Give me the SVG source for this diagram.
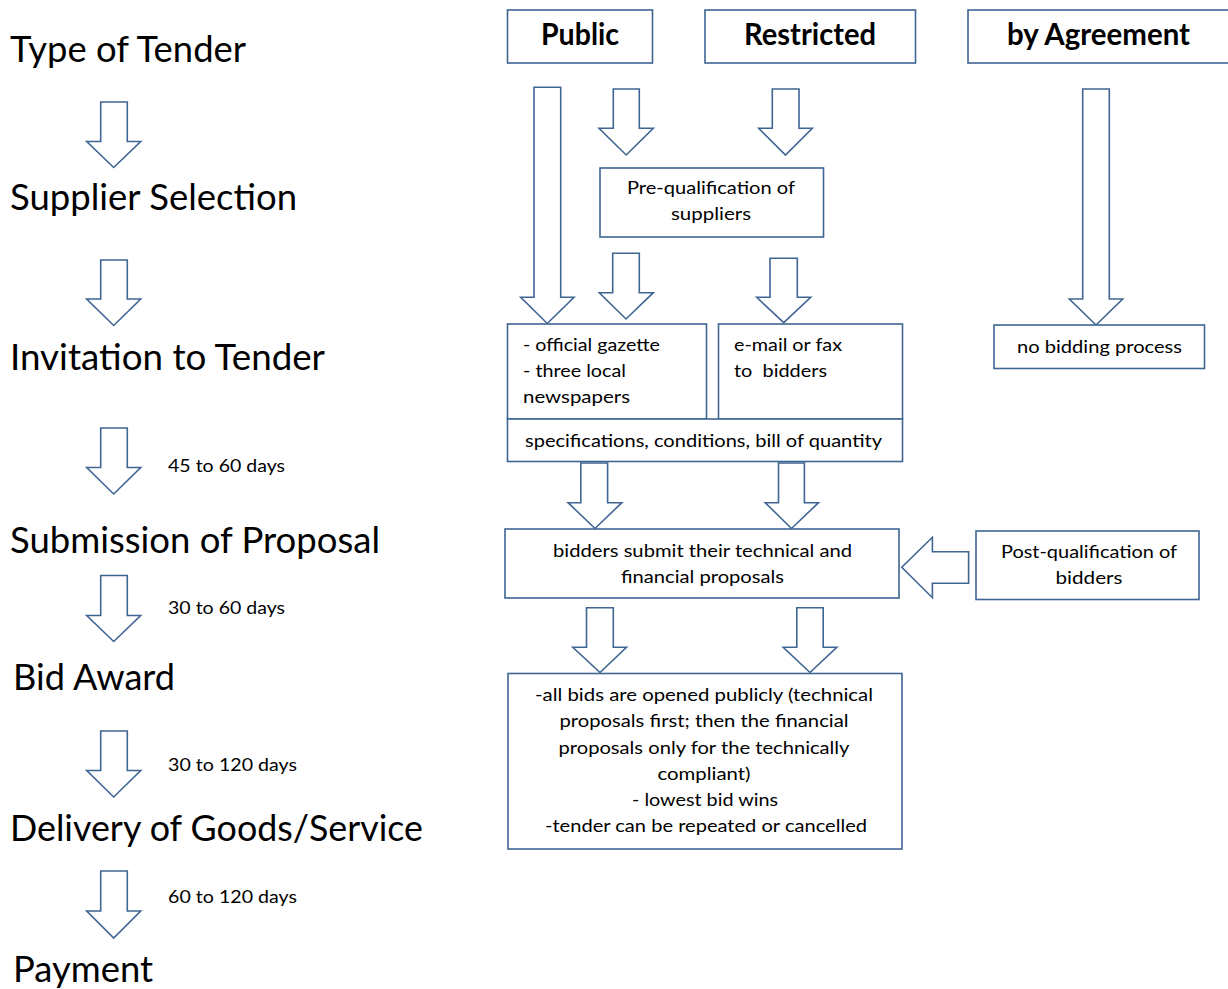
<svg xmlns="http://www.w3.org/2000/svg" width="1228" height="989" viewBox="0 0 1228 989">
<style>
.box{fill:#fff;stroke:#3f6593;stroke-width:1.6}
.arr{fill:#fff;stroke:#3f6593;stroke-width:1.6;stroke-linejoin:miter}
text{font-family:Lato,"Liberation Sans",sans-serif;fill:#000}
.big{font-size:36px}
.hd{font-size:30px;font-weight:bold}
.sm{font-size:18px}
.mid{text-anchor:middle}
</style>
<rect width="1228" height="989" fill="#fff"/>
<g id="stages">
<text class="big" x="10" y="62" textLength="236" lengthAdjust="spacingAndGlyphs">Type of Tender</text>
<text class="big" x="10" y="210" textLength="287" lengthAdjust="spacingAndGlyphs">Supplier Selection</text>
<text class="big" x="10" y="370" textLength="315" lengthAdjust="spacingAndGlyphs">Invitation to Tender</text>
<text class="big" x="10" y="553" textLength="370" lengthAdjust="spacingAndGlyphs">Submission of Proposal</text>
<text class="big" x="13" y="690" textLength="162" lengthAdjust="spacingAndGlyphs">Bid Award</text>
<text class="big" x="10" y="841" textLength="413" lengthAdjust="spacingAndGlyphs">Delivery of Goods/Service</text>
<text class="big" x="13" y="982" textLength="140" lengthAdjust="spacingAndGlyphs">Payment</text>
<text class="sm" x="168" y="472" textLength="117" lengthAdjust="spacingAndGlyphs">45 to 60 days</text>
<text class="sm" x="168" y="614" textLength="117" lengthAdjust="spacingAndGlyphs">30 to 60 days</text>
<text class="sm" x="168" y="771" textLength="129" lengthAdjust="spacingAndGlyphs">30 to 120 days</text>
<text class="sm" x="168" y="903" textLength="129" lengthAdjust="spacingAndGlyphs">60 to 120 days</text>
</g>
<g id="public">
<rect class="box" x="507.5" y="10" width="145" height="53"/>
<text class="hd mid" x="580" y="45" textLength="78" lengthAdjust="spacingAndGlyphs">Public</text>
</g>
<g id="restricted">
<rect class="box" x="705" y="10" width="210.5" height="53"/>
<text class="hd mid" x="810" y="45" textLength="132" lengthAdjust="spacingAndGlyphs">Restricted</text>
</g>
<g id="agreement">
<rect class="box" x="968" y="10" width="262" height="53"/>
<text class="hd mid" x="1098.5" y="45" textLength="183" lengthAdjust="spacingAndGlyphs">by Agreement</text>
</g>
<g id="prequal">
<rect class="box" x="600" y="168" width="223.5" height="69"/>
<text class="sm mid" x="711" y="194" textLength="168" lengthAdjust="spacingAndGlyphs">Pre-qualification of</text>
<text class="sm mid" x="711" y="220" textLength="80" lengthAdjust="spacingAndGlyphs">suppliers</text>
</g>
<g id="gazette">
<rect class="box" x="507.5" y="324" width="199" height="95"/>
<text class="sm" x="523" y="351" textLength="137" lengthAdjust="spacingAndGlyphs">- official gazette</text>
<text class="sm" x="523" y="377" textLength="103" lengthAdjust="spacingAndGlyphs">- three local</text>
<text class="sm" x="523" y="403" textLength="107" lengthAdjust="spacingAndGlyphs">newspapers</text>
</g>
<g id="email">
<rect class="box" x="718.5" y="324" width="184" height="95"/>
<text class="sm" x="734" y="351" textLength="108" lengthAdjust="spacingAndGlyphs">e-mail or fax</text>
<text class="sm" x="734" y="377" textLength="93" lengthAdjust="spacingAndGlyphs" xml:space="preserve">to  bidders</text>
</g>
<g id="specs">
<rect class="box" x="507.5" y="419" width="395" height="42.5"/>
<text class="sm" x="525" y="447" textLength="357" lengthAdjust="spacingAndGlyphs">specifications, conditions, bill of quantity</text>
</g>
<g id="nobid">
<rect class="box" x="994" y="325" width="210.5" height="43.5"/>
<text class="sm mid" x="1099.5" y="353" textLength="165" lengthAdjust="spacingAndGlyphs">no bidding process</text>
</g>
<g id="submit">
<rect class="box" x="505" y="529" width="394" height="69"/>
<text class="sm mid" x="702.5" y="557" textLength="299" lengthAdjust="spacingAndGlyphs">bidders submit their technical and</text>
<text class="sm mid" x="702.5" y="583" textLength="163" lengthAdjust="spacingAndGlyphs">financial proposals</text>
</g>
<g id="postqual">
<rect class="box" x="976" y="531" width="223" height="68.5"/>
<text class="sm mid" x="1089" y="558" textLength="176" lengthAdjust="spacingAndGlyphs">Post-qualification of</text>
<text class="sm mid" x="1089" y="584" textLength="67" lengthAdjust="spacingAndGlyphs">bidders</text>
</g>
<g id="opening">
<rect class="box" x="508" y="673.5" width="394" height="175.5"/>
<text class="sm mid" x="704" y="701" textLength="338" lengthAdjust="spacingAndGlyphs">-all bids are opened publicly (technical</text>
<text class="sm mid" x="704" y="727" textLength="289" lengthAdjust="spacingAndGlyphs">proposals first; then the financial</text>
<text class="sm mid" x="704" y="754" textLength="291" lengthAdjust="spacingAndGlyphs">proposals only for the technically</text>
<text class="sm mid" x="704" y="780" textLength="93" lengthAdjust="spacingAndGlyphs">compliant)</text>
<text class="sm mid" x="705" y="806" textLength="146" lengthAdjust="spacingAndGlyphs">- lowest bid wins</text>
<text class="sm mid" x="706" y="832" textLength="322" lengthAdjust="spacingAndGlyphs">-tender can be repeated or cancelled</text>
</g>
<g id="connectors">
<polygon class="arr" points="100.7,102 127.3,102 127.3,141.5 140.7,141.5 113.7,167.5 86.7,141.5 100.7,141.5"/>
<polygon class="arr" points="100.7,260 127.3,260 127.3,299 140.7,299 113.7,325.5 86.7,299 100.7,299"/>
<polygon class="arr" points="100.7,428 127.3,428 127.3,467.5 140.7,467.5 113.7,494 86.7,467.5 100.7,467.5"/>
<polygon class="arr" points="100.7,575.5 127.3,575.5 127.3,615.5 140.7,615.5 113.7,641.5 86.7,615.5 100.7,615.5"/>
<polygon class="arr" points="100.7,731 127.3,731 127.3,770.5 140.7,770.5 113.7,797 86.7,770.5 100.7,770.5"/>
<polygon class="arr" points="100.7,871 127.3,871 127.3,911 140.7,911 113.7,938 86.7,911 100.7,911"/>
<polygon class="arr" points="534,87.3 560.7,87.3 560.7,297.3 574,297.3 547.3,323.5 520.7,297.3 534,297.3"/>
<polygon class="arr" points="613.3,89 639.3,89 639.3,128.3 653.3,128.3 626.2,155 599,128.3 613.3,128.3"/>
<polygon class="arr" points="772.3,89 799,89 799,128.3 812.3,128.3 785.5,155 758.7,128.3 772.3,128.3"/>
<polygon class="arr" points="612.7,253.3 639.3,253.3 639.3,292.7 653.3,292.7 626,319 599.3,292.7 612.7,292.7"/>
<polygon class="arr" points="770,258.3 797.3,258.3 797.3,297.3 810.7,297.3 783.7,322.7 756.7,297.3 770,297.3"/>
<polygon class="arr" points="1082.7,89 1109.3,89 1109.3,299 1122.7,299 1096,325 1069.3,299 1082.7,299"/>
<polygon class="arr" points="580.8,463 607.6,463 607.6,502.7 621.8,502.7 595,528.5 568.1,502.7 580.8,502.7"/>
<polygon class="arr" points="778.5,463 804.4,463 804.4,502.7 818.5,502.7 791.5,528.5 765.3,502.7 778.5,502.7"/>
<polygon class="arr" points="586.5,607.7 613.3,607.7 613.3,647.3 626.5,647.3 600,672.5 572.8,647.3 586.5,647.3"/>
<polygon class="arr" points="796.8,607.7 823.2,607.7 823.2,647.3 836.8,647.3 810,672.5 783.2,647.3 796.8,647.3"/>
<polygon class="arr" points="968.6,551.7 968.6,583.3 932.4,583.3 932.4,597.7 901.8,567.3 932.4,537.3 932.4,551.7"/>
</g>
</svg>
